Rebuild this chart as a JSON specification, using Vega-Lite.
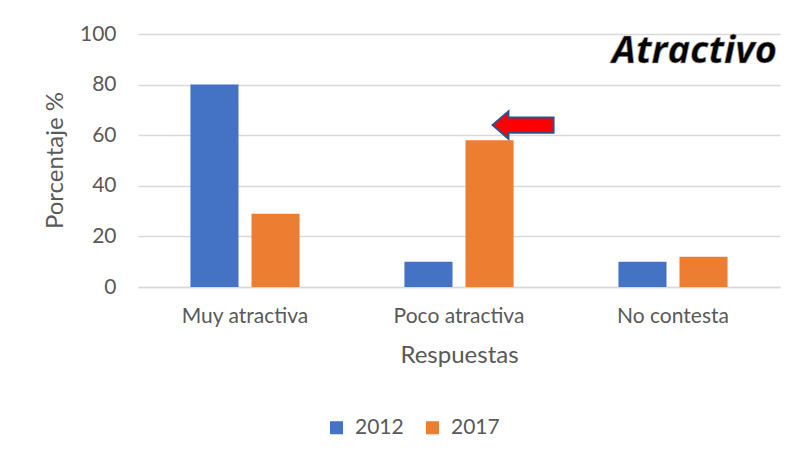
{
  "$schema": "https://vega.github.io/schema/vega-lite/v6.json",
  "autosize": {"type": "none"},
  "width": 642,
  "height": 253,
  "padding": {"left": 138, "top": 34, "right": 22, "bottom": 179},
  "background": "white",
  "config": {
    "font": "Lato",
    "view": {"stroke": null},
    "axis": {"labelFont": "Lato", "titleFont": "Lato", "labelColor": "#595959", "titleColor": "#595959", "titleFontWeight": "normal"}
  },
  "datasets": {
    "bars": [
      {"respuesta": "Muy atractiva", "anio": "2012", "porcentaje": 80},
      {"respuesta": "Muy atractiva", "anio": "2017", "porcentaje": 29},
      {"respuesta": "Poco atractiva", "anio": "2012", "porcentaje": 10},
      {"respuesta": "Poco atractiva", "anio": "2017", "porcentaje": 58},
      {"respuesta": "No contesta", "anio": "2012", "porcentaje": 10},
      {"respuesta": "No contesta", "anio": "2017", "porcentaje": 12}
    ],
    "arrow": [
      {"respuesta": "Poco atractiva", "anio": "2017", "porcentaje": 64}
    ],
    "titulo": [
      {"texto": "Atractivo"}
    ]
  },
  "layer": [
    {
      "data": {"name": "bars"},
      "mark": {"type": "bar"},
      "encoding": {
        "x": {
          "field": "respuesta", "type": "nominal",
          "sort": ["Muy atractiva", "Poco atractiva", "No contesta"],
          "scale": {"paddingInner": 0.49, "paddingOuter": 0.245},
          "axis": {"title": "Respuestas", "labelAngle": 0, "labelFontSize": 21, "titleFontSize": 24, "ticks": false, "domainColor": "#D9D9D9", "domainWidth": 1.3, "labelPadding": 18, "titlePadding": 17}
        },
        "xOffset": {
          "field": "anio", "type": "nominal",
          "scale": {"paddingInner": 0.213, "paddingOuter": 0}
        },
        "y": {
          "field": "porcentaje", "type": "quantitative",
          "scale": {"domain": [0, 100]},
          "axis": {"title": "Porcentaje %", "values": [0, 20, 40, 60, 80, 100], "labelFontSize": 21, "titleFontSize": 24, "ticks": false, "domain": false, "gridColor": "#D9D9D9", "gridWidth": 1.3, "labelPadding": 22, "titleX": -83, "titleY": 126, "titleAngle": -90, "titleAlign": "center", "titleBaseline": "middle"}
        },
        "color": {
          "field": "anio", "type": "nominal",
          "scale": {"domain": ["2012", "2017"], "range": ["#4472C4", "#ED7D31"]},
          "legend": {"title": null, "orient": "none", "direction": "horizontal", "legendX": 188, "legendY": 383, "symbolType": "square", "symbolSize": 170, "symbolStrokeWidth": 0, "labelFontSize": 21, "labelColor": "#595959", "labelFont": "Lato", "columnPadding": 18, "labelOffset": 8}
        }
      }
    },
    {
      "data": {"name": "arrow"},
      "mark": {
        "type": "point",
        "shape": "M 0.1 0 L 0.62 -0.45 L 0.62 -0.25 L 2.1 -0.25 L 2.1 0.25 L 0.62 0.25 L 0.62 0.45 Z",
        "size": 3721,
        "filled": true,
        "fill": "#FF0000",
        "stroke": "#2F528F",
        "strokeWidth": 2,
        "opacity": 1
      },
      "encoding": {
        "x": {"field": "respuesta", "type": "nominal", "sort": ["Muy atractiva", "Poco atractiva", "No contesta"]},
        "xOffset": {"field": "anio", "type": "nominal"},
        "y": {"field": "porcentaje", "type": "quantitative"}
      }
    },
    {
      "data": {"name": "titulo"},
      "mark": {"type": "text", "font": "Open Sans", "fontSize": 38, "fontWeight": "bold", "fontStyle": "italic", "align": "right", "baseline": "alphabetic", "dx": 104, "fill": "#000000", "stroke": "#A6A6A6", "strokeWidth": 0.6},
      "encoding": {"text": {"field": "texto"}, "x": {"datum": "No contesta"}, "y": {"datum": 88.5}}
    }
  ]
}
